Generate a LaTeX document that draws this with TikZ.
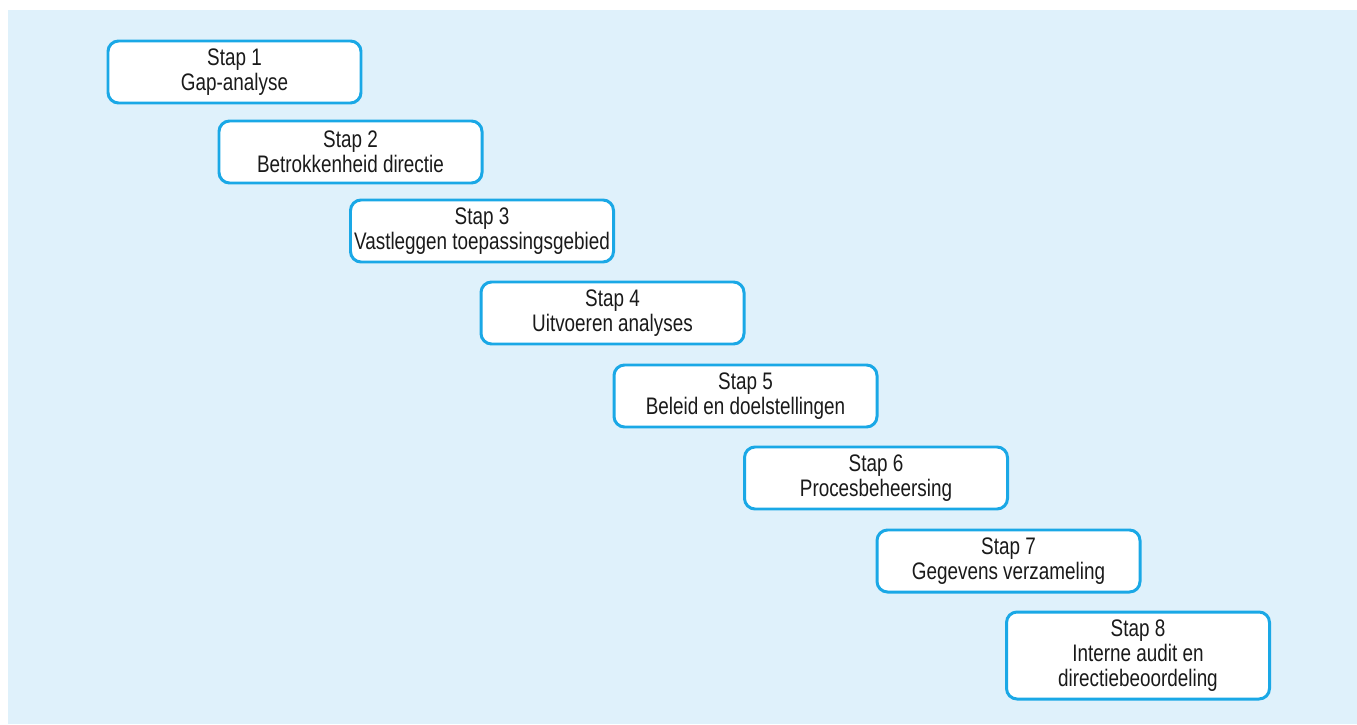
\documentclass[tikz,border=0pt]{standalone}
\usepackage{fontspec}
\setmainfont[FakeStretch=0.79]{Liberation Sans}
\usepackage{tikz}
\usetikzlibrary{positioning}
\definecolor{stapblue}{HTML}{1AA8E6}
\definecolor{stapback}{HTML}{DFF1FB}
\definecolor{stapink}{HTML}{1A1A1A}
\begin{document}
\begin{tikzpicture}[font=\fontsize{13.6}{14.2}\selectfont\color{stapink},
  stapbox/.style={draw=stapblue, line width=1.7pt, rounded corners=6pt, fill=white, align=center, minimum width=5.26cm, minimum height=1.24cm, inner sep=0pt}]
% ===== background =====
\useasboundingbox (0,0) rectangle (27.14,14.48);
\fill[stapback] (0.16,0) rectangle (27.14,14.28);
% ===== steps =====
\node[stapbox, minimum width=5.06cm] (s1) at (4.69,13.04) {Stap 1\\Gap-analyse};
\node[stapbox] (s2) at (7.01,11.44) {Stap 2\\Betrokkenheid directie};
\node[stapbox] (s3) at (9.64,9.86) {Stap 3\\Vastleggen toepassingsgebied};
\node[stapbox] (s4) at (12.25,8.22) {Stap 4\\Uitvoeren analyses};
\node[stapbox] (s5) at (14.91,6.56) {Stap 5\\Beleid en doelstellingen};
\node[stapbox] (s6) at (17.52,4.92) {Stap 6\\Procesbeheersing};
\node[stapbox] (s7) at (20.17,3.26) {Stap 7\\Gegevens verzameling};
\node[stapbox, minimum height=1.74cm] (s8) at (22.76,1.37) {Stap 8\\Interne audit en\\directiebeoordeling};
\end{tikzpicture}
\end{document}
